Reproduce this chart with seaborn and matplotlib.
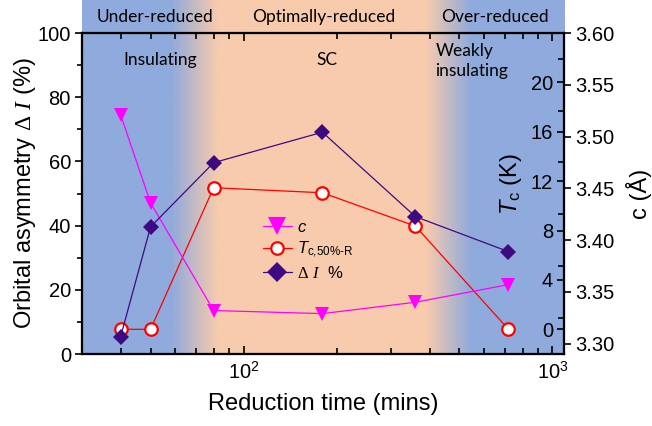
import numpy as np
import matplotlib
matplotlib.use("Agg")
import matplotlib.pyplot as plt
from matplotlib.colors import to_rgb
from matplotlib.ticker import MultipleLocator, FormatStrFormatter, NullFormatter
import seaborn as sns

# reduction time (mins) of each sample
time_min = [40, 50, 80, 180, 360, 720]
# c-axis lattice constant (Angstrom)
c_axis = [3.521, 3.436, 3.332, 3.329, 3.340, 3.357]
# Tc at 50% of normal-state resistance (K)
tc_50 = [0.0, 0.0, 11.47, 11.06, 8.36, 0.0]
# orbital asymmetry (%)
delta_i = [5.4, 39.6, 59.6, 69.1, 42.8, 31.9]

# background shading: blue -> peach between the first two times, peach -> blue between the last two
shade_edges = [58, 82.5, 388, 543]
blue = "#8FAADC"
peach = "#F8CBAD"

regimes = ["Under-reduced", "Optimally-reduced", "Over-reduced"]
regime_x = [51.5, 181.5, 649]
states = ["Insulating", "SC", "Weakly\ninsulating"]
state_x = [53.9, 185.6, 418]

sns.set_theme(style="ticks", rc={
    "axes.linewidth": 1.5,
    "axes.edgecolor": "black",
    "axes.labelcolor": "black",
    "text.color": "black",
    "xtick.color": "black",
    "ytick.color": "black",
})
plt.rcParams["font.family"] = ["Liberation Sans", "DejaVu Sans"]
plt.rcParams.update({
    "mathtext.fontset": "custom",
    "mathtext.rm": "Liberation Sans",
    "mathtext.it": "Liberation Sans:italic",
    "mathtext.bf": "Liberation Sans:bold",
    "mathtext.sf": "Liberation Serif",
    "mathtext.cal": "Liberation Serif:italic",
})

fig = plt.figure(figsize=(6.52, 4.26), dpi=100)
pos = [0.1258, 0.169, 0.7393, 0.7535]

# gradient background, runs up into the band above the axes
bg = fig.add_axes([pos[0], pos[1], pos[2], 1 - pos[1]], zorder=-1)
ax = fig.add_axes(pos, zorder=3)
ax.set_xscale("log")
ax.set_xlim(30, 1090)
ax.patch.set_visible(False)
ax2 = ax.twinx()
ax2.set_zorder(1)
ax3 = ax.twinx()
ax3.set_zorder(2)

lx0, lx1 = np.log10(ax.get_xlim())
gx = np.linspace(lx0, lx1, 800)
w = np.interp(gx, np.log10(shade_edges), [0, 1, 1, 0])
grad = (1 - w)[:, None] * np.array(to_rgb(blue)) + w[:, None] * np.array(to_rgb(peach))
bg.imshow(grad[None], extent=[lx0, lx1, 0, 1], aspect="auto", interpolation="bilinear")
bg.set_xlim(lx0, lx1)
bg.set_ylim(0, 1)
bg.axis("off")

purple = "#3D0A82"
sns.lineplot(x=time_min, y=delta_i, ax=ax, color=purple, linewidth=0.9, marker="D",
             markersize=8.5, markeredgecolor=purple, markeredgewidth=0, legend=False,
             label=r"$\mathsf{\Delta}\ \mathcal{I}$  %")
sns.lineplot(x=time_min, y=tc_50, ax=ax2, color="#FF0000", linewidth=0.9, marker="o",
             markersize=9, markerfacecolor="white", markeredgecolor="#FF0000",
             markeredgewidth=1.6, legend=False, label=r"$T_\mathrm{c{,}50\%\text{-}R}$")
sns.lineplot(x=time_min, y=c_axis, ax=ax3, color="#FF00FF", linewidth=0.9, marker="v",
             markersize=10.5, markeredgecolor="#FF00FF", markeredgewidth=0, legend=False,
             label=r"$c$")

# left axis
ax.set_ylim(0, 100)
ax.yaxis.set_major_locator(MultipleLocator(20))
ax.yaxis.set_minor_locator(MultipleLocator(10))
ax.tick_params(axis="y", which="both", direction="out", width=1.2, labelsize=14.5, pad=3)
ax.tick_params(axis="y", which="major", length=5)
ax.tick_params(axis="y", which="minor", length=3.5)
ax.tick_params(axis="x", which="both", direction="in", top=True, bottom=True, width=1.2,
               labelsize=14.5, pad=5)
ax.tick_params(axis="x", which="major", length=6)
ax.tick_params(axis="x", which="minor", length=4)
ax.xaxis.set_minor_formatter(NullFormatter())
ax.set_xlabel("Reduction time (mins)", fontsize=17, labelpad=7)
ax.set_ylabel(r"Orbital asymmetry $\mathsf{\Delta}\ \mathcal{I}$ (%)", fontsize=17, labelpad=0)

# Tc axis, labels inside the plot
ax2.set_ylim(-2, 24)
ax2.set_yticks(range(0, 21, 4))
ax2.tick_params(axis="y", direction="in", length=5, width=1.2, labelsize=14.5, pad=-8,
                right=True, labelright=True)
for lbl in ax2.get_yticklabels():
    lbl.set_horizontalalignment("right")
ax2.set_ylabel(r"$T_\mathrm{c}$ (K)", fontsize=17)
ax2.yaxis.set_label_coords(0.862, 0.53)

# c axis
ax3.set_ylim(3.29, 3.60)
ax3.set_yticks(np.round(np.arange(3.30, 3.601, 0.05), 2))
ax3.yaxis.set_minor_locator(MultipleLocator(0.025))
ax3.yaxis.set_major_formatter(FormatStrFormatter("%.2f"))
ax3.tick_params(axis="y", which="major", direction="out", length=5, width=1.2, labelsize=14.5, pad=3)
ax3.tick_params(axis="y", which="minor", direction="in", length=4, width=1.2)
ax3.set_ylabel("c (Å)", fontsize=17, labelpad=8)

for a in (ax2, ax3):
    a.set_xlabel("")

# regime labels in the band above, state labels inside
for name, x in zip(regimes, regime_x):
    bg.text(np.log10(x), 0.952, name, ha="center", va="center", family="Lato", size=12.5)
for name, x in zip(states[:2], state_x[:2]):
    ax.text(x, 0.915, name, transform=ax.get_xaxis_transform(), ha="center", va="center",
            family="Lato", size=12.5)
ax.text(state_x[2], 0.913, states[2], transform=ax.get_xaxis_transform(), ha="left",
        va="center", family="Lato", size=12.5, linespacing=1.25)

handles = [ax3.lines[-1], ax2.lines[-1], ax.lines[-1]]
leg = ax.legend(handles, [h.get_label() for h in handles], loc="upper left",
                bbox_to_anchor=(0.403, 0.484), bbox_transform=fig.transFigure,
                frameon=False, fontsize=12, handlelength=1.75, handletextpad=0.3,
                borderpad=0, borderaxespad=0, labelspacing=0.3)
leg.legend_handles[0].set_markersize(13.5)
leg.legend_handles[2].set_markersize(10.5)

fig.savefig("out.png", dpi=100)
